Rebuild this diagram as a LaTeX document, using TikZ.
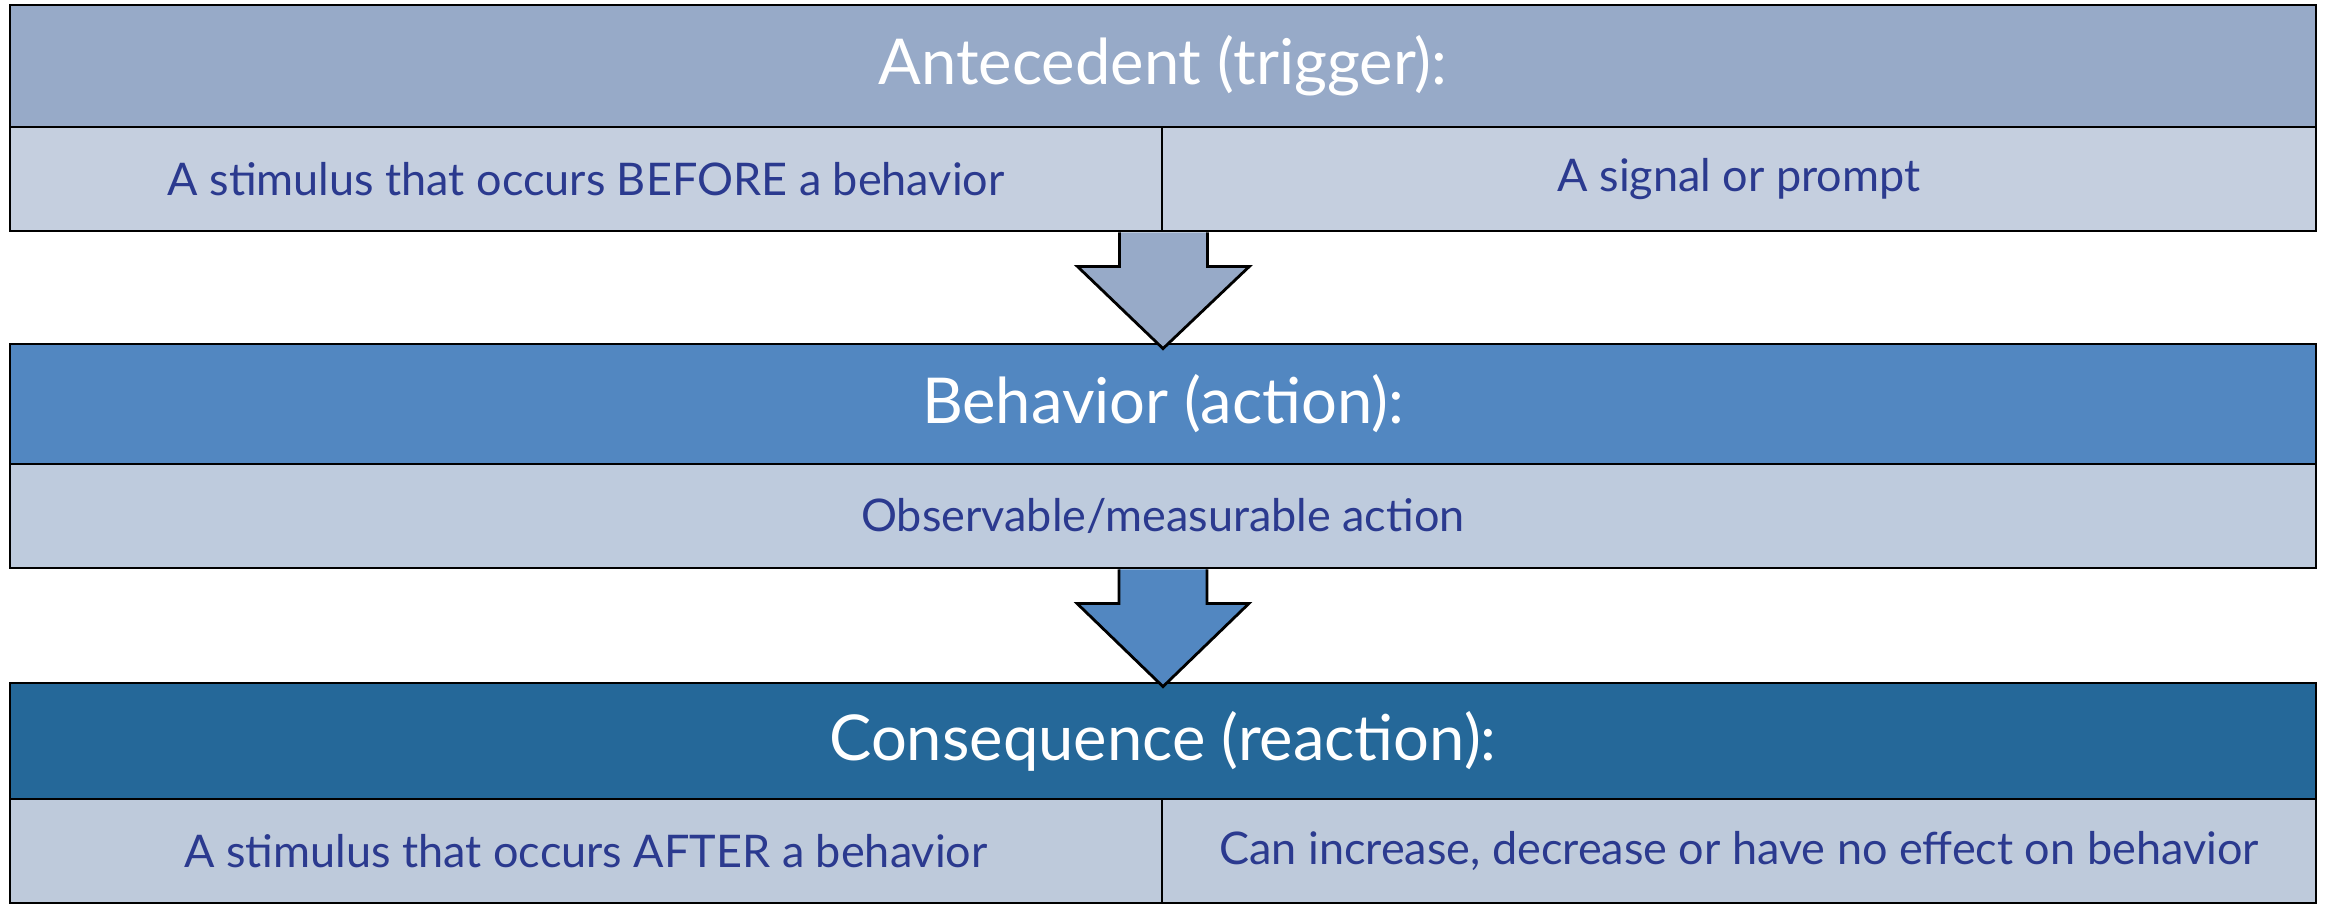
\documentclass[tikz,border=0pt]{standalone}
\usepackage{fontspec}
\setmainfont{Lato}
\usetikzlibrary{calc}
\definecolor{anteHead}{HTML}{97AAC8}
\definecolor{anteCell}{HTML}{C5CFDF}
\definecolor{behHead}{HTML}{5287C1}
\definecolor{behCell}{HTML}{BECBDD}
\definecolor{consHead}{HTML}{256899}
\definecolor{consCell}{HTML}{BECADB}
\definecolor{cellText}{HTML}{2B3A8F}

\begin{document}
\begin{tikzpicture}
        \tikzstyle{head}=[rectangle,draw,thick,inner sep=0pt,minimum width=23.06cm,text=white,font=\fontsize{18}{21}\selectfont]
        \tikzstyle{cell}=[rectangle,draw,thick,inner sep=0pt,minimum height=1.04cm,text=cellText,font=\fontsize{12.8}{15}\selectfont]
        \tikzstyle{blockarrow}=[draw,thick,line join=miter]
        \useasboundingbox (0,0) rectangle (23.26,9.05);
        \node [head,fill=anteHead,minimum height=1.22cm] (anteH) at (11.63, 8.39) {Antecedent (trigger):};
        \node [cell,fill=anteCell,minimum width=11.52cm] (anteL) at (5.86, 7.26) {A stimulus that occurs BEFORE a behavior};
        \node [cell,fill=anteCell,minimum width=11.54cm] (anteR) at (17.39, 7.26) {A signal or prompt};
        \node [head,fill=behHead,minimum height=1.20cm] (behH) at (11.63, 5.01) {Behavior (action):};
        \node [cell,fill=behCell,minimum width=23.06cm] (behC) at (11.63, 3.89) {Observable/measurable action};
        \node [head,fill=consHead,minimum height=1.16cm] (consH) at (11.63, 1.64) {Consequence (reaction):};
        \node [cell,fill=consCell,minimum width=11.52cm] (consL) at (5.86, 0.54) {A stimulus that occurs AFTER a behavior};
        \node [cell,fill=consCell,minimum width=11.54cm] (consR) at (17.39, 0.54) {Can increase, decrease or have no effect on behavior};
        \draw [blockarrow,fill=anteHead] ($(anteL.south east)+(-0.44,0)$) -- ++(0,-0.34) -- ++(-0.42,0)
            -- ($(behH.north)+(0,-0.06)$) -- ($(anteL.south east)+(0.86,-0.34)$) -- ++(-0.42,0) -- ++(0,0.34);
        \draw [blockarrow,fill=behHead] ($(behC.south)+(-0.44,0)$) -- ++(0,-0.34) -- ++(-0.42,0)
            -- ($(consH.north)+(0,-0.05)$) -- ($(behC.south)+(0.86,-0.34)$) -- ++(-0.42,0) -- ++(0,0.34);
    \end{tikzpicture}
\end{document}
